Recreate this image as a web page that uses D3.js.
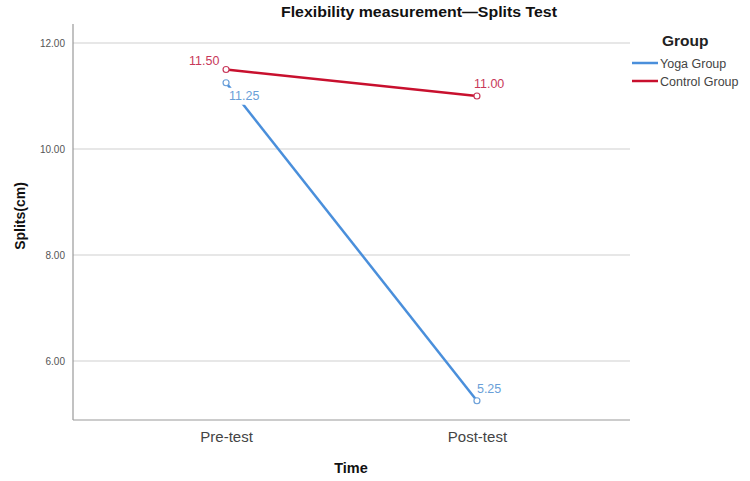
<!DOCTYPE html>
<html><head><meta charset="utf-8">
<script src="https://cdn.jsdelivr.net/npm/d3@7/dist/d3.min.js"></script>
<style>body{margin:0;background:#fff}svg{display:block}text{font-family:"Liberation Sans",Arial,sans-serif}</style>
</head><body><svg id="c" width="750" height="481"></svg>
<script>
const categories = ["Pre-test", "Post-test"];
const yogaValues = [11.25, 5.25];
const controlValues = [11.50, 11.00];
const yTicks = [6, 8, 10, 12];
const seriesNames = ["Yoga Group", "Control Group"];

(function () {
const svg = d3.select("#c");
const pL = 73, pR = 630, pT = 24, pB = 420;
const y = d3.scaleLinear().domain([6, 12]).range([361, 43]);
const x = d3.scalePoint().domain(categories).range([pL, pR]).padding(0.61);

// gridlines
svg.append("g").selectAll("line").data(yTicks).join("line")
  .attr("x1", pL).attr("x2", pR).attr("y1", d => y(d)).attr("y2", d => y(d))
  .attr("stroke", "#cfcfcf").attr("stroke-width", 1);

// axes
const yAxis = svg.append("g").attr("transform", `translate(${pL},0)`)
  .call(d3.axisLeft(y).tickValues(yTicks).tickSize(0).tickPadding(8).tickFormat(d3.format(".2f")));
yAxis.select(".domain").remove();
yAxis.selectAll("text").attr("font-size", 10).attr("fill", "#555");
svg.append("line").attr("x1", pL).attr("x2", pL).attr("y1", pT).attr("y2", pB).attr("stroke", "#999").attr("stroke-width", 1.2);

const xAxis = svg.append("g").attr("transform", `translate(0,${pB})`)
  .call(d3.axisBottom(x).tickSize(0).tickPadding(11));
xAxis.select(".domain").remove();
xAxis.selectAll("text").attr("font-size", 15).attr("fill", "#444");
svg.append("line").attr("x1", pL).attr("x2", pR).attr("y1", pB).attr("y2", pB).attr("stroke", "#999").attr("stroke-width", 1.2);

const series = [
  {name: seriesNames[0], values: yogaValues, color: "#4a8fdb", label: "#6a9fd8"},
  {name: seriesNames[1], values: controlValues, color: "#c8102e", label: "#c8385a"}
];
const line = d3.line().x((d, i) => x(categories[i])).y(d => y(d));

series.forEach(s => {
  svg.append("path").datum(s.values).attr("d", line)
    .attr("fill", "none").attr("stroke", s.color).attr("stroke-width", 2.5);
});

// data labels with white background
const labels = [
  {v: yogaValues[0], c: 0, dx: 3, dy: 17, s: 0},
  {v: yogaValues[1], c: 1, dx: 0, dy: -8, s: 0},
  {v: controlValues[0], c: 0, dx: -37, dy: -5, s: 1},
  {v: controlValues[1], c: 1, dx: -3, dy: -8, s: 1}
];
labels.forEach(l => {
  const px = x(categories[l.c]) + l.dx, py = y(l.v) + l.dy;
  if (l.s === 0 && l.c === 0) {
    svg.append("rect").attr("x", px - 2).attr("y", py - 12).attr("width", 38).attr("height", 17).attr("fill", "#fff");
  }
  svg.append("text").attr("x", px).attr("y", py).attr("font-size", 12.5)
    .attr("fill", series[l.s].label).text(l.v.toFixed(2));
});

series.forEach(s => {
  svg.append("g").selectAll("circle").data(s.values).join("circle")
    .attr("cx", (d, i) => x(categories[i])).attr("cy", d => y(d)).attr("r", 3)
    .attr("fill", "#fff").attr("stroke", s.label).attr("stroke-width", 1.2);
});

// titles
svg.append("text").attr("x", 419).attr("y", 17).attr("text-anchor", "middle")
  .attr("font-size", 14.5).attr("font-weight", "bold").attr("fill", "#111")
  .attr("textLength", 276).attr("lengthAdjust", "spacingAndGlyphs")
  .text("Flexibility measurement\u2014Splits Test");
svg.append("text").attr("transform", "translate(25,216) rotate(-90)").attr("text-anchor", "middle")
  .attr("font-size", 14).attr("font-weight", "bold").attr("fill", "#111").text("Splits(cm)");
svg.append("text").attr("x", 351).attr("y", 473).attr("text-anchor", "middle")
  .attr("font-size", 14.5).attr("font-weight", "bold").attr("fill", "#111").text("Time");

// legend
svg.append("text").attr("x", 662).attr("y", 46).attr("font-size", 15.5).attr("font-weight", "bold").attr("fill", "#222").text("Group");
const lg = svg.append("g").selectAll("g").data(series).join("g")
  .attr("transform", (d, i) => `translate(632,${63 + i * 18})`);
lg.append("line").attr("x1", 0).attr("x2", 26).attr("stroke", d => d.color).attr("stroke-width", 2.5);
lg.append("text").attr("x", 28).attr("y", 4.5).attr("font-size", 12.5).attr("fill", "#444").text(d => d.name);
})();
</script></body></html>
